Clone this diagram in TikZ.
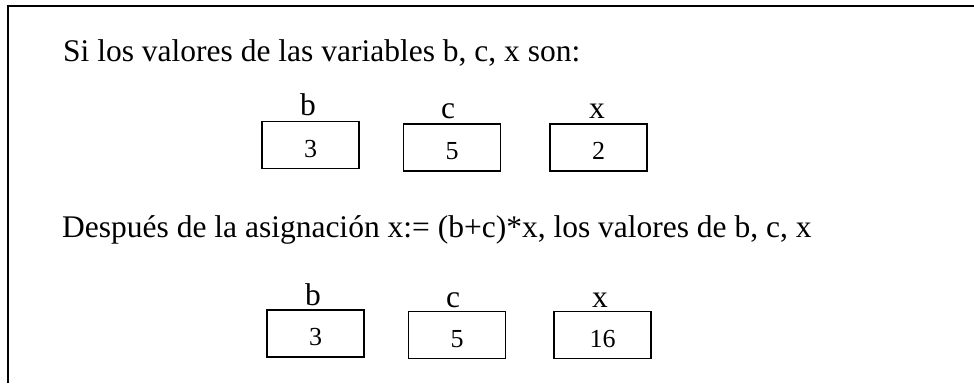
\documentclass[tikz,border=0pt]{standalone}
\usepackage{fontspec}
\setmainfont{Liberation Serif}
\newcommand{\txtsize}{\fontsize{31.5}{38}\selectfont}
\newcommand{\numsize}{\fontsize{26}{31}\selectfont}
\tikzset{
  valbox/.style={draw,line width=1.5pt,minimum width=97pt,minimum height=47pt,inner sep=0pt,
    text height=24pt,text depth=0pt,font=\numsize},
  varname/.style={anchor=base,inner sep=0pt,font=\txtsize},
  sentence/.style={anchor=base west,inner sep=0pt,font=\txtsize}
}

\begin{document}
\begin{tikzpicture}[x=1pt,y=-1pt]
\useasboundingbox (0,0) rectangle (974,383);
\draw[line width=2pt] (8,383) -- (8,6) -- (974,6);
\node[sentence] (intro) at (63,61) {Si los valores de las variables b, c, x son:};
% valores antes
\node[valbox] (b1) at (310.5,145) {3};
\node[valbox] (c1) at (452,147.5) {5};
\node[valbox] (x1) at (598.5,147.5) {2};
\node[varname] (nb1) at (308,115) {b};
\node[varname] (nc1) at (448,118) {c};
\node[varname] (nx1) at (597,118) {x};
\node[sentence] (asig) at (62,237) {Después de la asignación x:= (b+c)*x, los valores de b, c, x};
% valores despues
\node[valbox] (b2) at (315.5,333.5) {3};
\node[valbox] (c2) at (457,335) {5};
\node[valbox] (x2) at (602.5,335) {16};
\node[varname] (nb2) at (313,305) {b};
\node[varname] (nc2) at (453,307) {c};
\node[varname] (nx2) at (600,307) {x};
\end{tikzpicture}
\end{document}
